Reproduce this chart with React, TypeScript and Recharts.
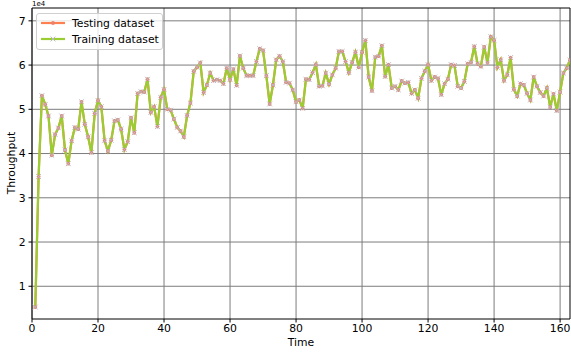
import React from 'react';
import { LineChart, Line, XAxis, YAxis, CartesianGrid, ReferenceLine } from 'recharts';

// Throughput per time step, in units of 1e4
const trainingThroughput: number[] = [
  0.53, 3.48, 5.31, 5.11, 4.85, 3.96, 4.43, 4.58, 4.85, 4.08,
  3.77, 4.29, 4.59, 4.55, 5.17, 4.66, 4.38, 4.02, 4.91, 5.2,
  5.06, 4.29, 4.06, 4.3, 4.74, 4.76, 4.55, 4.09, 4.27, 4.81,
  4.47, 5.36, 5.4, 5.39, 5.68, 4.93, 5.06, 4.61, 5.27, 5.45,
  5.0, 4.98, 4.78, 4.59, 4.51, 4.38, 4.86, 5.14, 5.86, 5.95,
  6.05, 5.38, 5.55, 5.82, 5.65, 5.67, 5.65, 5.58, 5.93, 5.67,
  5.91, 5.54, 6.21, 5.93, 5.76, 5.76, 5.76, 6.08, 6.37, 6.33,
  5.76, 5.12, 5.55, 6.12, 6.2, 6.08, 5.61, 5.59, 5.44, 5.17,
  5.21, 5.02, 5.68, 5.67, 5.83, 6.01, 5.52, 5.53, 5.82, 5.57,
  5.78, 5.93, 6.31, 6.31, 6.08, 5.83, 6.06, 6.29, 5.95, 6.29,
  6.56, 5.73, 5.42, 6.18, 6.2, 6.44, 5.74, 6.01, 5.48, 5.52,
  5.44, 5.64, 5.59, 5.61, 5.36, 5.44, 5.25, 5.7, 5.86, 6.01,
  5.65, 5.73, 5.7, 5.33, 5.58, 5.68, 6.01, 5.99, 5.52, 5.48,
  5.63, 6.03, 6.06, 6.42, 6.03, 5.97, 6.41, 6.05, 6.64, 6.56,
  5.95, 6.12, 5.65, 5.78, 6.17, 5.45, 5.3, 5.58, 5.55, 5.36,
  5.21, 5.73, 5.52, 5.38, 5.3, 5.48, 5.05, 5.35, 4.97, 5.39,
  5.82, 5.93, 6.11,
];

// The testing trace coincides with the training trace
const testingThroughput: number[] = trainingThroughput;

const xTicks = [0, 20, 40, 60, 80, 100, 120, 140, 160];
const yTicks = [1, 2, 3, 4, 5, 6, 7];
const xDomain: [number, number] = [0, 163];
const yDomain: [number, number] = [0.26, 7.29];

const rows = trainingThroughput.map((v, i) => ({
  time: i + 1,
  training: v,
  testing: testingThroughput[i],
}));

const ORANGE = '#FF7F50';
const GREEN = '#9ACD32';
const MARK = '#b9b9c4';
const FONT = 'DejaVu Sans, sans-serif';

const OrangeDot = (props: any) => {
  const { cx, cy } = props;
  if (cx == null || cy == null) return null;
  return <circle cx={cx} cy={cy} r={1.9} fill="#e8826a" />;
};

const CrossDot = (props: any) => {
  const { cx, cy } = props;
  if (cx == null || cy == null) return null;
  const s = 2.4;
  return (
    <path
      d={`M${cx - s},${cy - s}L${cx + s},${cy + s}M${cx + s},${cy - s}L${cx - s},${cy + s}`}
      stroke={MARK}
      strokeWidth={1}
      fill="none"
    />
  );
};

export default function App() {
  return (
    <div style={{ position: 'absolute', left: 0, top: 0, width: 571, height: 352, background: '#fff' }}>
      <LineChart
        width={571}
        height={352}
        data={rows}
        margin={{ top: 8, right: 1, bottom: 0, left: 0 }}
      >
        <CartesianGrid
          stroke="#7c7c7c"
          strokeWidth={1}
          horizontalValues={yTicks}
          verticalValues={xTicks}
        />
        <XAxis
          dataKey="time"
          type="number"
          domain={xDomain}
          ticks={xTicks}
          allowDataOverflow
          height={33}
          tickSize={3.5}
          tickMargin={2}
          axisLine={{ stroke: '#000', strokeWidth: 1 }}
          tickLine={{ stroke: '#000' }}
          tick={{ fill: '#000', fontSize: 10.8, fontFamily: FONT }}
        />
        <YAxis
          type="number"
          domain={yDomain}
          ticks={yTicks}
          allowDataOverflow
          width={32}
          tickSize={3.5}
          tickMargin={3}
          axisLine={{ stroke: '#000', strokeWidth: 1 }}
          tickLine={{ stroke: '#000' }}
          tick={{ fill: '#000', fontSize: 10.8, fontFamily: FONT }}
        />
        <ReferenceLine y={yDomain[1]} stroke="#000" strokeWidth={1} />
        <ReferenceLine x={xDomain[1]} stroke="#000" strokeWidth={1} />
        <Line
          dataKey="testing"
          stroke={ORANGE}
          strokeWidth={2.2}
          dot={false}
          activeDot={false}
          isAnimationActive={false}
        />
        <Line
          dataKey="training"
          stroke={GREEN}
          strokeWidth={2.2}
          dot={false}
          activeDot={false}
          isAnimationActive={false}
        />
        <Line
          dataKey="testing"
          stroke="none"
          dot={<OrangeDot />}
          activeDot={false}
          isAnimationActive={false}
        />
        <Line
          dataKey="training"
          stroke="none"
          dot={<CrossDot />}
          activeDot={false}
          isAnimationActive={false}
        />
      </LineChart>
      <svg
        width={571}
        height={352}
        style={{ position: 'absolute', left: 0, top: 0, pointerEvents: 'none' }}
        fontFamily={FONT}
      >
        <text x={32} y={6} fontSize={7} fill="#000">1e4</text>
        <text
          x={15}
          y={163}
          fontSize={10.8}
          fill="#000"
          textAnchor="middle"
          transform="rotate(-90 15 163)"
        >
          Throughput
        </text>
        <text x={301} y={346} fontSize={10.8} fill="#000" textAnchor="middle">Time</text>
        <g>
          <rect x={36.5} y={13.5} width={126} height={36} rx={2.5} fill="#fff" fillOpacity={0.8} stroke="#d0d0d0" />
          <line x1={41} y1={23} x2={65} y2={23} stroke={ORANGE} strokeWidth={2.2} />
          <circle cx={53} cy={23} r={1.9} fill="#e8826a" />
          <text x={72} y={27} fontSize={10.8} fill="#000">Testing dataset</text>
          <line x1={41} y1={39} x2={65} y2={39} stroke={GREEN} strokeWidth={2.2} />
          <path d="M50.6,36.6L55.4,41.4M55.4,36.6L50.6,41.4" stroke={MARK} strokeWidth={1} />
          <text x={72} y={43} fontSize={10.8} fill="#000">Training dataset</text>
        </g>
      </svg>
    </div>
  );
}
